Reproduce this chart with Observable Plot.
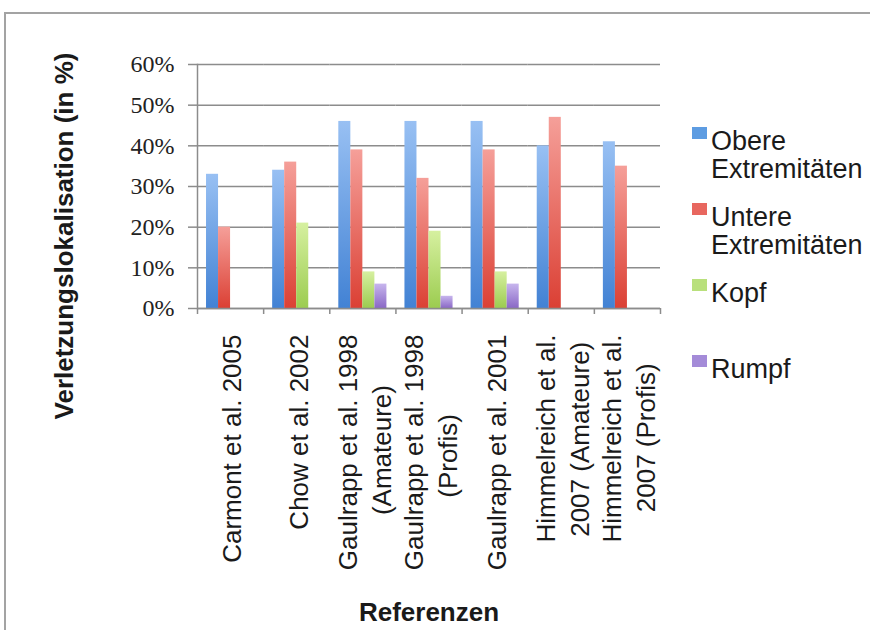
<!DOCTYPE html>
<html>
<head>
<meta charset="utf-8">
<script src="https://cdn.jsdelivr.net/npm/d3@7"></script>
<script src="https://cdn.jsdelivr.net/npm/@observablehq/plot@0.6"></script>
<style>
  body { margin: 0; background: #fff; }
  #wrap { position: relative; width: 870px; height: 630px; overflow: hidden; font-family: "Liberation Sans", Arial, sans-serif; color: #1a1a1a; }
  #wrap svg { position: absolute; left: 0; top: 0; }
  #border { position: absolute; left: 4px; top: 12px; width: 900px; height: 700px; border-left: 2px solid #a3a3a3; border-top: 2px solid #a3a3a3; pointer-events: none; }
  .ytitle { position: absolute; left: 64px; top: 236px; transform: translate(-50%, -50%) rotate(-90deg); white-space: nowrap; font-weight: bold; font-size: 26px; line-height: 26px; }
  .xtitle { position: absolute; left: 429px; top: 599px; transform: translateX(-50%); white-space: nowrap; font-weight: bold; font-size: 26px; line-height: 26px; }
  .legend { position: absolute; left: 692px; top: 127px; }
  .entry { position: relative; height: 76px; }
  .swatch { position: absolute; left: 0; top: 0px; width: 15px; height: 12px; }
  .ltext { position: absolute; left: 19px; top: 0; width: 165px; font-size: 27px; line-height: 28px; }
</style>
</head>
<body>
<div id="wrap"></div>
<script>
// ---- data ----
const categories = [
  "Carmont et al. 2005",
  "Chow et al. 2002",
  "Gaulrapp et al. 1998\n(Amateure)",
  "Gaulrapp et al. 1998\n(Profis)",
  "Gaulrapp et al. 2001",
  "Himmelreich et al.\n2007 (Amateure)",
  "Himmelreich et al.\n2007 (Profis)"
];
const series = ["Obere Extremitäten", "Untere Extremitäten", "Kopf", "Rumpf"];
const obere  = [33, 34, 46, 46, 46, 40, 41];
const untere = [20, 36, 39, 32, 39, 47, 35];
const kopf   = [null, 21, 9, 19, 9, null, null];
const rumpf  = [null, null, 6, 3, 6, null, null];
const yTicks = [0, 10, 20, 30, 40, 50, 60];
const yLabel = "Verletzungslokalisation (in %)";
const xLabel = "Referenzen";

// colours (top / bottom of gradient, legend swatch)
const gradTop    = ["#98c0f3", "#f59f99", "#d6f0a0", "#c7b5ed"];
const gradBottom = ["#4282d4", "#db4034", "#9ccc50", "#8a68c6"];
const swatch     = ["#5d9ce2", "#e8675f", "#b9e07c", "#a48bd8"];

const valueArrays = [obere, untere, kopf, rumpf];
const rows = [];
categories.forEach((c, i) => series.forEach((s, k) => {
  const v = valueArrays[k][i];
  if (v != null) rows.push({cat: c, series: s, value: v});
}));

// centre second lines of multi-line labels (text anchored at end)
const ctx = document.createElement("canvas").getContext("2d");
ctx.font = "26px 'Liberation Sans'";
function fmt(d) {
  const lines = d.split("\n");
  if (lines.length < 2) return d;
  const w = lines.map(l => ctx.measureText(l).width);
  const maxW = Math.max(...w);
  const sp = ctx.measureText("\u00a0").width || 7;
  return lines.map((l, i) => l + "\u00a0".repeat(Math.max(0, Math.round((maxW - w[i]) / 2 / sp)))).join("\n");
}

const grid = "#8c8c8c";
function build(step) {
  return Plot.plot({
    width: 870, height: 630,
    marginLeft: 197, marginRight: 210, marginTop: 64, marginBottom: 322,
    style: {background: "transparent", overflow: "visible"},
    fx: {domain: categories, padding: 0, round: false, label: null},
    x: {domain: series, paddingInner: 0, paddingOuter: 0.75, round: false, axis: null},
    y: {domain: [0, 60], label: null},
    marks: [
      Plot.ruleY(yTicks, {stroke: grid, strokeWidth: 1.5}),
      ...series.map((s, k) => Plot.barY(rows.filter(r => r.series === s), {
        fx: "cat", x: "series", y: "value", fill: `url(#g${k})`
      })),
      Plot.frame({anchor: "left", facetAnchor: "left", stroke: grid, strokeWidth: 1.5}),
      Plot.ruleY([0], {stroke: grid, strokeWidth: 1.5}),
      Plot.axisY({ticks: yTicks, tickSize: 9, tickFormat: () => "", color: grid, strokeWidth: 1.5, label: null}),
      Plot.axisY({ticks: yTicks, tickSize: 0, tickPadding: 23, tickFormat: d => d + "%", color: "#222",
        fontSize: 24, fontFamily: "Liberation Serif", label: null}),
      Plot.axisFx({anchor: "bottom", tickSize: 0, tickRotate: -90, textAnchor: "end", lineAnchor: "middle",
        lineHeight: 1.3, tickPadding: 26, fontSize: 26, fontFamily: "Liberation Sans", color: "#1a1a1a",
        tickFormat: fmt, label: null}),
      Plot.axisFx({anchor: "bottom", tickSize: 6, dx: -step / 2, color: grid, strokeWidth: 1.5, tickFormat: () => "", label: null}),
      Plot.axisFx({anchor: "bottom", ticks: [categories[categories.length - 1]], tickSize: 6, dx: step / 2,
        color: grid, strokeWidth: 1.5, tickFormat: () => "", label: null})
    ]
  });
}

let fig = build(0);
const fxs = fig.scale("fx");
const step = (fxs && fxs.step) ? fxs.step : (fxs.range[1] - fxs.range[0]) / categories.length;
fig = build(step);

const svg = fig.tagName.toLowerCase() === "svg" ? fig : fig.querySelector("svg");
const ns = "http://www.w3.org/2000/svg";
const defs = document.createElementNS(ns, "defs");
series.forEach((s, k) => {
  const lg = document.createElementNS(ns, "linearGradient");
  lg.setAttribute("id", "g" + k);
  lg.setAttribute("x1", "0"); lg.setAttribute("y1", "0");
  lg.setAttribute("x2", "0"); lg.setAttribute("y2", "1");
  [[0, gradTop[k]], [1, gradBottom[k]]].forEach(([o, c]) => {
    const st = document.createElementNS(ns, "stop");
    st.setAttribute("offset", o);
    st.setAttribute("stop-color", c);
    lg.appendChild(st);
  });
  defs.appendChild(lg);
});
svg.insertBefore(defs, svg.firstChild);

const wrap = document.getElementById("wrap");
wrap.appendChild(fig);

const yt = document.createElement("div");
yt.className = "ytitle"; yt.textContent = yLabel; wrap.appendChild(yt);
const xt = document.createElement("div");
xt.className = "xtitle"; xt.textContent = xLabel; wrap.appendChild(xt);

const legend = document.createElement("div");
legend.className = "legend";
series.forEach((s, k) => {
  const e = document.createElement("div"); e.className = "entry";
  const sw = document.createElement("div"); sw.className = "swatch"; sw.style.background = swatch[k];
  const t = document.createElement("div"); t.className = "ltext"; t.textContent = s;
  e.appendChild(sw); e.appendChild(t); legend.appendChild(e);
});
wrap.appendChild(legend);

const border = document.createElement("div");
border.id = "border"; wrap.appendChild(border);
</script>
</body>
</html>
